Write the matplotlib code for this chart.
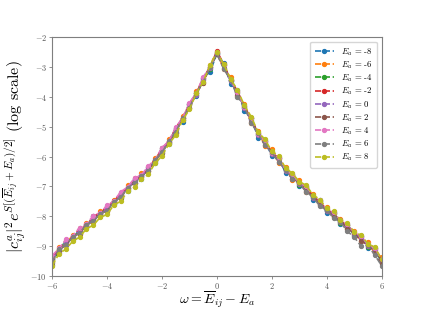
import matplotlib
matplotlib.use("Agg")
import matplotlib.pyplot as plt

plt.rcParams["font.family"] = "serif"
plt.rcParams["font.serif"] = ["cmr10", "DejaVu Serif"]
plt.rcParams["mathtext.fontset"] = "cm"
plt.rcParams["axes.formatter.use_mathtext"] = True

omega = [-6.00, -5.75, -5.50, -5.25, -5.00, -4.75, -4.50, -4.25, -4.00, -3.75,
         -3.50, -3.25, -3.00, -2.75, -2.50, -2.25, -2.00, -1.75, -1.50, -1.25,
         -1.00, -0.75, -0.50, -0.25, 0.00, 0.25, 0.50, 0.75, 1.00, 1.25,
         1.50, 1.75, 2.00, 2.25, 2.50, 2.75, 3.00, 3.25, 3.50, 3.75,
         4.00, 4.25, 4.50, 4.75, 5.00, 5.25, 5.50, 5.75, 6.00]

energies = [-8, -6, -4, -2, 0, 2, 4, 6, 8]

s_m8 = [-9.40, -9.22, -8.82, -8.78, -8.42, -8.38, -8.00, -7.98, -7.66, -7.60, -7.22, -7.14, -6.74, -6.74, -6.34, -6.22, -5.72, -5.58, -5.04, -4.84, -4.22, -3.98, -3.36, -3.16, -2.55,
        -2.86, -3.56, -3.78, -4.46, -4.70, -5.36, -5.46, -5.98, -6.00, -6.56, -6.58, -7.00, -6.98, -7.44, -7.46, -7.90, -7.86, -8.26, -8.26, -8.66, -8.66, -9.06, -9.06, -9.56]
s_m6 = [-9.54, -9.04, -8.96, -8.62, -8.60, -8.22, -8.18, -7.84, -7.84, -7.44, -7.38, -6.96, -6.90, -6.56, -6.50, -6.04, -5.88, -5.42, -5.20, -4.64, -4.38, -3.80, -3.52, -2.92, -2.50,
        -3.06, -3.34, -3.96, -4.24, -4.86, -5.14, -5.64, -5.76, -6.20, -6.34, -6.78, -6.80, -7.18, -7.24, -7.64, -7.70, -8.04, -8.08, -8.44, -8.48, -8.84, -8.88, -9.24, -9.36]
s_m4 = [-9.62, -9.10, -8.84, -8.76, -8.44, -8.32, -8.08, -7.94, -7.68, -7.58, -7.24, -7.12, -6.76, -6.68, -6.40, -6.14, -5.78, -5.56, -5.06, -4.78, -4.24, -3.94, -3.40, -3.06, -2.54,
        -2.92, -3.48, -3.82, -4.38, -4.72, -5.28, -5.48, -5.92, -6.04, -6.48, -6.62, -6.94, -7.02, -7.38, -7.48, -7.84, -7.88, -8.22, -8.28, -8.62, -8.68, -9.02, -9.08, -9.52]
s_m2 = [-9.34, -9.14, -8.82, -8.72, -8.40, -8.32, -8.00, -7.90, -7.68, -7.50, -7.22, -7.06, -6.72, -6.66, -6.34, -6.12, -5.72, -5.50, -5.04, -4.72, -4.22, -3.88, -3.36, -3.00, -2.46,
        -2.90, -3.44, -3.80, -4.34, -4.70, -5.24, -5.48, -5.88, -6.04, -6.44, -6.62, -6.90, -7.02, -7.34, -7.50, -7.80, -7.90, -8.18, -8.30, -8.58, -8.70, -9.00, -9.10, -9.46]
s_0 = [-9.42, -9.16, -8.88, -8.74, -8.48, -8.36, -8.06, -7.98, -7.72, -7.56, -7.28, -7.10, -6.80, -6.70, -6.40, -6.18, -5.78, -5.56, -5.10, -4.78, -4.28, -3.92, -3.42, -3.04, -2.52,
       -2.94, -3.48, -3.86, -4.38, -4.76, -5.26, -5.52, -5.90, -6.08, -6.48, -6.66, -6.92, -7.06, -7.38, -7.52, -7.82, -7.92, -8.20, -8.32, -8.60, -8.72, -9.00, -9.12, -9.50]
s_2 = [-9.56, -9.12, -8.98, -8.68, -8.58, -8.30, -8.16, -7.92, -7.82, -7.50, -7.38, -7.04, -6.90, -6.64, -6.50, -6.12, -5.88, -5.50, -5.20, -4.72, -4.38, -3.88, -3.52, -3.00, -2.56,
       -3.04, -3.42, -3.94, -4.30, -4.84, -5.22, -5.62, -5.84, -6.18, -6.42, -6.76, -6.88, -7.16, -7.32, -7.62, -7.78, -8.02, -8.14, -8.42, -8.56, -8.84, -8.96, -9.24, -9.60]
s_4 = [-9.32, -9.08, -8.78, -8.66, -8.38, -8.26, -7.98, -7.88, -7.64, -7.48, -7.18, -7.02, -6.72, -6.62, -6.32, -6.10, -5.70, -5.48, -5.02, -4.70, -4.20, -3.86, -3.34, -2.98, -2.50,
       -2.92, -3.44, -3.82, -4.34, -4.72, -5.24, -5.50, -5.88, -6.04, -6.44, -6.60, -6.88, -7.00, -7.32, -7.46, -7.76, -7.86, -8.14, -8.26, -8.54, -8.66, -8.94, -9.06, -9.44]
s_6 = [-9.52, -9.10, -8.96, -8.70, -8.56, -8.28, -8.16, -7.92, -7.82, -7.52, -7.36, -7.04, -6.90, -6.66, -6.50, -6.10, -5.86, -5.48, -5.18, -4.70, -4.36, -3.86, -3.50, -2.98, -2.54,
       -3.06, -3.42, -4.00, -4.32, -4.88, -5.22, -5.62, -5.86, -6.18, -6.44, -6.76, -6.90, -7.18, -7.36, -7.66, -7.80, -8.06, -8.20, -8.50, -8.70, -9.00, -8.98, -9.30, -9.66]
s_8 = [-9.66, -9.26, -9.10, -8.84, -8.70, -8.42, -8.30, -8.04, -7.94, -7.62, -7.50, -7.16, -7.02, -6.76, -6.60, -6.22, -5.98, -5.58, -5.28, -4.78, -4.42, -3.88, -3.50, -2.94, -2.50,
       -2.90, -3.40, -3.76, -4.28, -4.66, -5.18, -5.42, -5.82, -5.98, -6.38, -6.56, -6.84, -6.96, -7.28, -7.44, -7.74, -7.84, -8.12, -8.24, -8.52, -8.64, -8.92, -9.04, -9.44]

series = [s_m8, s_m6, s_m4, s_m2, s_0, s_2, s_4, s_6, s_8]

fig, ax = plt.subplots(figsize=(4.24, 3.11), dpi=100)

for i, (ea, vals) in enumerate(zip(energies, series)):
    ax.plot(omega, vals, linestyle="--", marker="o", markersize=2.8,
            linewidth=1.2, color=f"C{i}", label=rf"$E_a$ = {ea}")

ax.set_xlim(-6, 6)
ax.set_ylim(-10, -2)
ax.set_xticks([-6, -4, -2, 0, 2, 4, 6])
ax.set_yticks([-2, -3, -4, -5, -6, -7, -8, -9, -10])

for sp in ax.spines.values():
    sp.set_color("#7f7f7f")
ax.tick_params(labelsize=6, colors="#7f7f7f", labelcolor="#555555",
               length=2.5, width=0.6, pad=1.2)

ax.set_xlabel(r"$\omega = \overline{E}_{ij} - E_a$", fontsize=10, labelpad=-1)
ax.set_ylabel(r"$|c^a_{ij}|^2 e^{S[(\overline{E}_{ij}+E_a)/2]}$ (log scale)",
              fontsize=11.5, labelpad=2)

ax.legend(loc="upper right", fontsize=6.3, handlelength=2.2,
          labelspacing=0.2, borderpad=0.5, framealpha=0.8)

fig.subplots_adjust(left=0.123, right=0.9, bottom=0.113, top=0.88)
fig.savefig("out.png", dpi=100)
